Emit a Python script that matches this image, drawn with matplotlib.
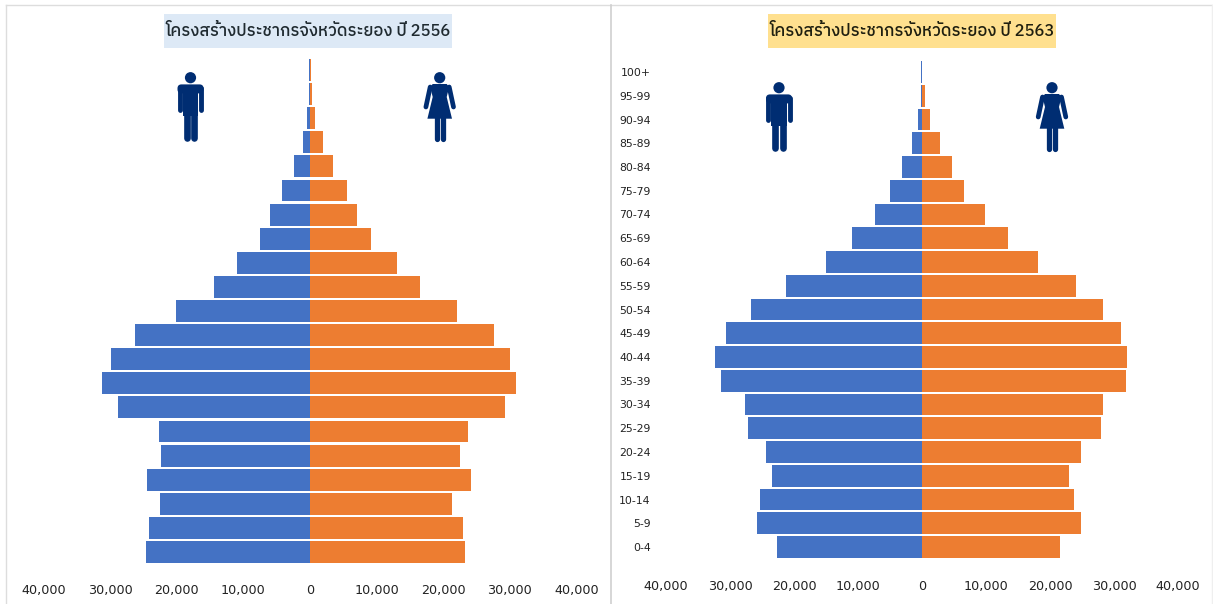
import matplotlib
matplotlib.use("Agg")
import matplotlib.pyplot as plt
from matplotlib.patches import Rectangle, Circle, Polygon, FancyBboxPatch
from matplotlib.ticker import FuncFormatter

W, H = 1213, 604
THAI = ["IBM Plex Sans Thai", "Anuphan", "DejaVu Sans"]

age_groups = ["0-4", "5-9", "10-14", "15-19", "20-24", "25-29", "30-34", "35-39", "40-44",
              "45-49", "50-54", "55-59", "60-64", "65-69", "70-74", "75-79", "80-84",
              "85-89", "90-94", "95-99", "100+"]

male_2556 = [24600, 24200, 22500, 24500, 22400, 22700, 28800, 31200, 29900, 26300, 20100,
             14400, 11000, 7500, 6000, 4200, 2400, 1050, 400, 150, 100]
female_2556 = [23300, 23000, 21300, 24200, 22500, 23700, 29300, 30900, 30000, 27600, 22000,
               16500, 13000, 9100, 7000, 5500, 3500, 1900, 700, 250, 100]
male_2563 = [22650, 25800, 25300, 23400, 24400, 27200, 27700, 31400, 32300, 30600, 26700,
             21200, 15000, 10900, 7300, 5000, 3100, 1550, 550, 200, 100]
female_2563 = [21600, 24800, 23700, 23000, 24800, 28000, 28300, 31900, 32100, 31100, 28300,
               24100, 18100, 13400, 9900, 6500, 4700, 2800, 1250, 400, 60]

x_ticks = [-40000, -30000, -20000, -10000, 0, 10000, 20000, 30000, 40000]
BLUE = "#4472C4"
ORANGE = "#ED7D31"
NAVY = "#002D72"


def pyramid(x0, x1, y_top, y_bot, y_first, step, male, female, labels, tick_pad):
    ax = fig.add_axes([x0 / W, 1 - y_bot / H, (x1 - x0) / W, (y_bot - y_top) / H])
    pos = list(range(len(male)))
    ax.barh(pos, [-v for v in male], height=0.91, color=BLUE, linewidth=0)
    ax.barh(pos, female, height=0.91, color=ORANGE, linewidth=0)
    ax.set_xlim(-40000, 40000)
    ax.set_ylim((y_first - y_bot) / step, (y_first - y_top) / step)
    ax.set_xticks(x_ticks)
    ax.xaxis.set_major_formatter(FuncFormatter(lambda v, p: f"{abs(v):,.0f}"))
    ax.tick_params(axis="x", length=0, pad=tick_pad, labelsize=9.2, labelcolor="#222222")
    if labels:
        ax.set_yticks(pos)
        ax.set_yticklabels(age_groups)
        ax.tick_params(axis="y", length=0, pad=11, labelsize=7.8, labelcolor="#222222")
    else:
        ax.set_yticks([])
    for s in ax.spines.values():
        s.set_visible(False)
    ax.patch.set_alpha(0)
    return ax


def man(ov, cx, top):
    ov.add_patch(Circle((cx, top + 5.7), 5.6, color=NAVY, lw=0))
    ov.add_patch(FancyBboxPatch((cx - 13, top + 12.4), 26, 9, boxstyle="round,pad=0,rounding_size=4",
                                fc=NAVY, ec=NAVY, lw=0))
    ov.add_patch(Rectangle((cx - 7.6, top + 14), 15.2, 30, fc=NAVY, ec=NAVY, lw=0))
    for dx in (-10.7, 10.7):
        ov.plot([cx + dx, cx + dx], [top + 16, top + 37.5], color=NAVY, lw=3.5, solid_capstyle="round")
    for dx in (-3.7, 3.7):
        ov.plot([cx + dx, cx + dx], [top + 40, top + 66], color=NAVY, lw=4.8, solid_capstyle="round")


def woman(ov, cx, top):
    ov.add_patch(Circle((cx, top + 5.7), 5.6, color=NAVY, lw=0))
    ov.add_patch(Polygon([(cx - 7, top + 12), (cx + 7, top + 12), (cx + 9.5, top + 15),
                          (cx + 7, top + 25), (cx + 12.3, top + 46.7), (cx - 12.3, top + 46.7),
                          (cx - 7, top + 25), (cx - 9.5, top + 15)],
                         closed=True, fc=NAVY, ec=NAVY, lw=0))
    for dx in (-1, 1):
        ov.plot([cx + dx * 9.5, cx + dx * 13.8], [top + 15, top + 35], color=NAVY, lw=3.4,
                solid_capstyle="round")
    for dx in (-3.2, 3.2):
        ov.plot([cx + dx, cx + dx], [top + 44, top + 67], color=NAVY, lw=3.8, solid_capstyle="round")


fig = plt.figure(figsize=(W / 100, H / 100), dpi=100, facecolor="white")

ov = fig.add_axes([0, 0, 1, 1], zorder=5)
ov.set_xlim(0, W)
ov.set_ylim(H, 0)
ov.axis("off")
ov.patch.set_alpha(0)

# panel frames
ov.plot([5.5, 5.5], [4.5, H], color="#DDDDDD", lw=1)
ov.plot([5.5, W], [4.5, 4.5], color="#DDDDDD", lw=1)
ov.plot([610.5, 610.5], [4.5, H], color="#CFCFCF", lw=1.2)
ov.plot([1212, 1212], [4.5, H], color="#EFEFEF", lw=1)

pyramid(43.5, 576.5, 40, 575, 552, 24.1, male_2556, female_2556, False, 6.5)
pyramid(666, 1178, 40, 570, 547, 23.75, male_2563, female_2563, True, 7.5)

# titles
ov.add_patch(Rectangle((164, 14), 288, 34, fc="#DDE9F6", ec="none"))
ov.add_patch(Rectangle((768, 14), 288, 34, fc="#FFE08F", ec="none"))
ov.text(308, 31, "โครงสร้างประชากรจังหวัดระยอง ปี 2556", family=THAI, fontsize=12, fontweight=500,
        ha="center", va="center", color="#1F2A30")
ov.text(912, 31, "โครงสร้างประชากรจังหวัดระยอง ปี 2563", family=THAI, fontsize=12, fontweight=500,
        ha="center", va="center", color="#1F1F10")

man(ov, 190.5, 72)
woman(ov, 439.7, 72)
man(ov, 779, 82)
woman(ov, 1052, 82)

fig.savefig("out.png", dpi=100)
